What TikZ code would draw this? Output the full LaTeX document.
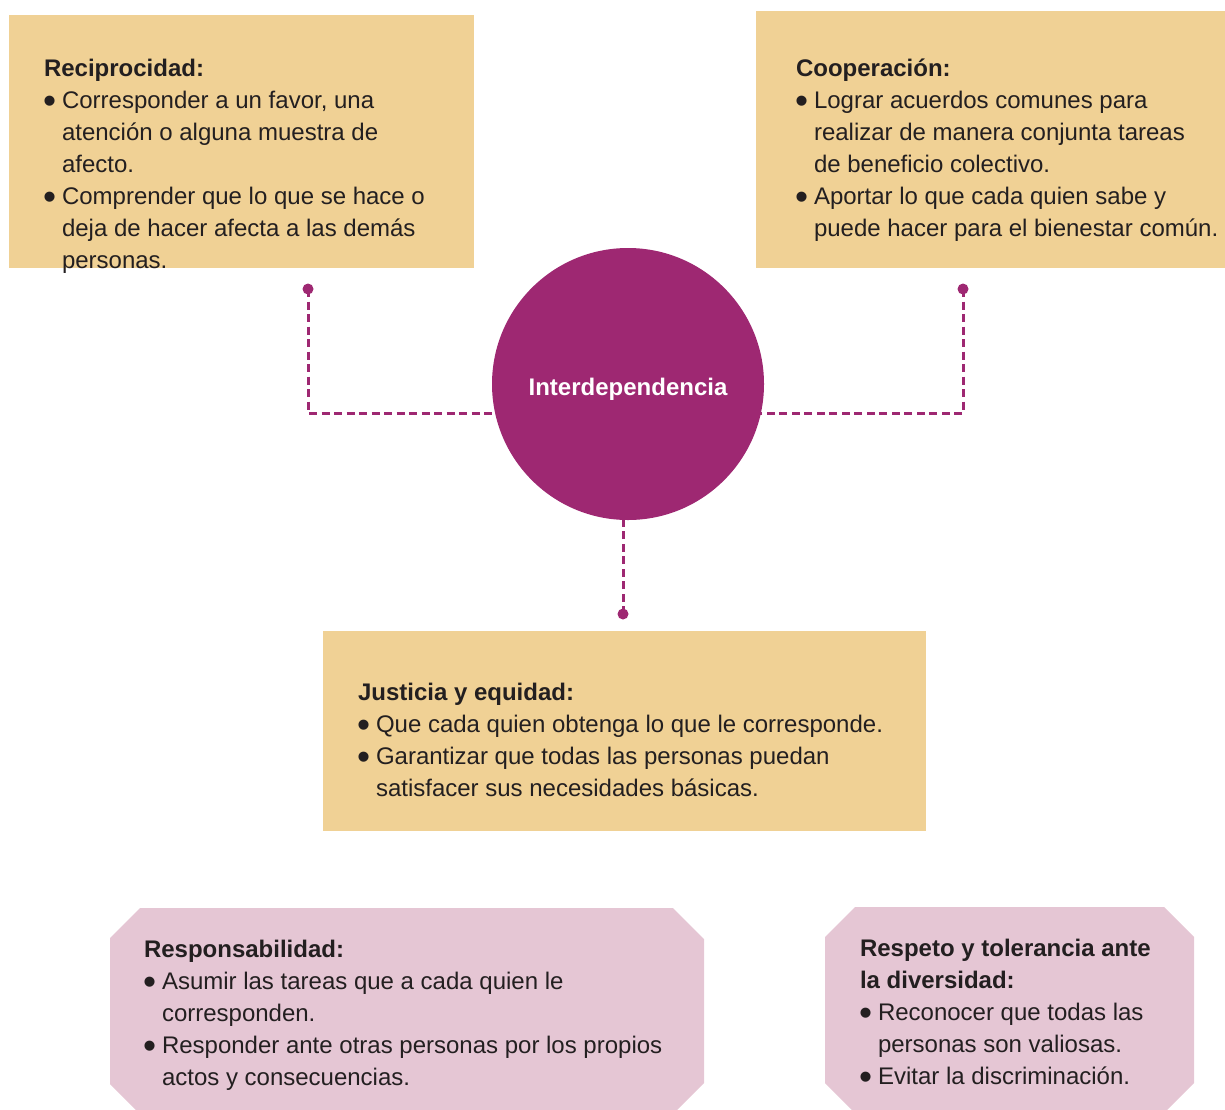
\documentclass[tikz,border=0pt]{standalone}
\usepackage{fontspec}
\usepackage{graphicx}
\setmainfont{Liberation Sans}
\definecolor{beige}{HTML}{F0D195}
\definecolor{rosa}{HTML}{E5C6D4}
\definecolor{morado}{HTML}{9E2872}
\definecolor{tinta}{HTML}{231F20}
\newcommand\bulx{\makebox[18pt][l]{\hspace{-1pt}\raisebox{-5pt}{\scalebox{1.55}{\textbullet}}}}
\newcommand\indx{\hspace*{18pt}}
\begin{document}
\begin{tikzpicture}[x=1pt,y=-1pt,
  box/.style={fill=beige, draw=none, anchor=north west, inner sep=0, outer sep=0},
  txt/.style={anchor=base west, align=left, inner sep=0, outer sep=0, text=tinta, font=\fontsize{24}{32}\selectfont},
  conn/.style={draw=morado, line width=3pt, dash pattern=on 8pt off 4.5pt},
  dotnode/.style={circle, fill=morado, inner sep=0, minimum size=11pt},
  hubstyle/.style={circle, fill=morado, inner sep=0, minimum size=272pt},
  hublabel/.style={anchor=base, inner sep=0, text=white, font=\fontsize{24}{32}\selectfont\bfseries}
]
\useasboundingbox (0,0) rectangle (1225,1109);
\clip (0,0) rectangle (1225,1109);

% beige boxes
\node[box, minimum width=465pt, minimum height=253pt] (recbox) at (9,15) {};
\node[box, minimum width=469pt, minimum height=257pt] (coobox) at (756,11) {};
\node[box, minimum width=603pt, minimum height=200pt] (jusbox) at (323,631) {};

% pink octagons
\fill[rosa] (140,908) -- (673,908) -- (704,939) -- (704,1083) -- (673,1114) -- (140,1114) -- (110,1084) -- (110,938) -- cycle;
\fill[rosa] (855,907) -- (1164,907) -- (1194,937) -- (1194,1083) -- (1164,1113) -- (855,1113) -- (825,1083) -- (825,937) -- cycle;

% connectors (drawn first so the hub covers their ends)
\node[dotnode] (dl) at (308,289) {};
\node[dotnode] (dr) at (963,289) {};
\node[dotnode] (db) at (623,614) {};
\coordinate (lc) at (308,413);
\coordinate (rc) at (963,413);
\coordinate (hc) at (628,384);
\draw[conn] (dl.center) -- (lc) -- (lc -| hc);
\draw[conn] (dr.center) -- (rc) -- (rc -| hc);
\draw[conn] (db.center) -- (db |- hc);

% hub
\node[hubstyle] (hub) at (hc) {};
\node[hublabel] (hubl) at (628,395) {Interdependencia};

% texts (anchored at the baseline of the last line)
\node[txt] (rectxt) at (44,268) {{\bfseries Reciprocidad:}\\
\bulx Corresponder a un favor, una\\
\indx atención o alguna muestra de\\
\indx afecto.\\
\bulx Comprender que lo que se hace o\\
\indx deja de hacer afecta a las demás\\
\indx personas.};

\node[txt] (cootxt) at (796,236) {{\bfseries Cooperación:}\\
\bulx Lograr acuerdos comunes para\\
\indx realizar de manera conjunta tareas\\
\indx de beneficio colectivo.\\
\bulx Aportar lo que cada quien sabe y\\
\indx puede hacer para el bienestar común.};

\node[txt] (justxt) at (358,796) {{\bfseries Justicia y equidad:}\\
\bulx Que cada quien obtenga lo que le corresponde.\\
\bulx Garantizar que todas las personas puedan\\
\indx satisfacer sus necesidades básicas.};

\node[txt] (restxt) at (144,1085) {{\bfseries Responsabilidad:}\\
\bulx Asumir las tareas que a cada quien le\\
\indx corresponden.\\
\bulx Responder ante otras personas por los propios\\
\indx actos y consecuencias.};

\node[txt] (resptxt) at (860,1084) {{\bfseries Respeto y tolerancia ante}\\
{\bfseries la diversidad:}\\
\bulx Reconocer que todas las\\
\indx personas son valiosas.\\
\bulx Evitar la discriminación.};
\end{tikzpicture}
\end{document}
